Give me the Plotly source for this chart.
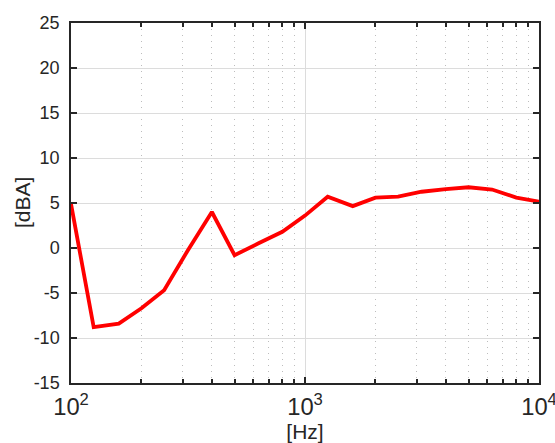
import plotly.graph_objects as go

freq_hz = [100, 125, 160, 200, 250, 315, 400, 500, 630, 800, 1000, 1250,
           1600, 2000, 2500, 3150, 4000, 5000, 6300, 8000, 10000]
level_dba = [4.9, -8.8, -8.4, -6.7, -4.7, -0.3, 4.0, -0.8, 0.5, 1.8, 3.6, 5.7,
             4.65, 5.6, 5.7, 6.25, 6.55, 6.75, 6.5, 5.6, 5.15]

y_ticks = [-15, -10, -5, 0, 5, 10, 15, 20, 25]
y_tick_text = [str(v) for v in y_ticks]

axis_col = "#262626"
fam = "Liberation Sans"
yfont = dict(family=fam, size=18, color=axis_col)
xfont = dict(family=fam, size=19, color=axis_col)
title_font = dict(family=fam, size=21, color=axis_col)

fig = go.Figure()
fig.add_trace(go.Scatter(x=freq_hz, y=level_dba, mode="lines",
                         line=dict(color="#ff0000", width=3.8), showlegend=False))

fig.update_layout(
    width=555, height=443,
    margin=dict(l=71, r=16, t=23, b=60),
    paper_bgcolor="white", plot_bgcolor="white",
    font=yfont,
    xaxis=dict(
        type="log", range=[2, 4], dtick=1,
        exponentformat="power",
        automargin=False,
        ticklabeloverflow="allow",
        showline=True, linecolor=axis_col, linewidth=1.5, mirror="ticks",
        ticks="inside", ticklen=6, tickcolor=axis_col, tickwidth=1.5,
        showgrid=True, gridcolor="#dcdcdc", gridwidth=1,
        zeroline=False,
        tickfont=xfont,
        minor=dict(dtick="D1", ticks="inside", ticklen=4, tickcolor=axis_col,
                   tickwidth=1.5, showgrid=True, gridcolor="#bdbdbd",
                   griddash="1px,5px", gridwidth=1),
        title=dict(text="[Hz]", font=title_font, standoff=4),
        ticklabelstandoff=3,
    ),
    yaxis=dict(
        range=[-15, 25], tickvals=y_ticks, ticktext=y_tick_text,
        automargin=False,
        showline=True, linecolor=axis_col, linewidth=1.5, mirror="ticks",
        ticks="inside", ticklen=6, tickcolor=axis_col, tickwidth=1.5,
        showgrid=True, gridcolor="#dcdcdc", gridwidth=1,
        zeroline=False,
        tickfont=yfont,
        ticklabelstandoff=6,
    ),
    annotations=[dict(text="[dBA]", xref="paper", yref="paper", x=0, y=0.5,
                      xanchor="center", yanchor="middle", xshift=-49,
                      textangle=-90, showarrow=False, font=title_font)],
)

fig.write_html("out.html",
               config={"displayModeBar": False},
               post_script="document.body.style.margin='0';"
                           "document.body.style.overflow='hidden';")
